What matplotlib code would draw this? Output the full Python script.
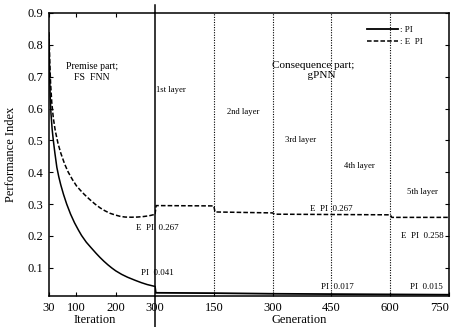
import matplotlib.pyplot as plt

plt.rcParams['font.family'] = ['Liberation Serif', 'DejaVu Serif']

# premise part (FS FNN), x = iteration
iter_pi = [30, 31, 32, 33, 35, 38, 41, 45, 50, 55, 60, 67, 75, 85, 95, 105, 113, 125, 137, 150,
           160, 170, 180, 190, 200, 215, 230, 250, 265, 280, 300]
pi_iter = [0.83, 0.75, 0.69, 0.64, 0.585, 0.535, 0.50, 0.46, 0.415, 0.385, 0.36, 0.33, 0.30, 0.268,
           0.241, 0.218, 0.201, 0.18, 0.163, 0.145, 0.132, 0.12, 0.109, 0.099, 0.090, 0.079, 0.070,
           0.060, 0.053, 0.047, 0.041]
iter_epi = [30, 31, 32, 34, 37, 41, 46, 53, 60, 70, 79, 90, 100, 110, 120, 133, 147, 160, 172, 185,
            200, 212, 224, 240, 255, 270, 285, 295, 300]
epi_iter = [0.84, 0.79, 0.745, 0.68, 0.62, 0.57, 0.53, 0.49, 0.46, 0.425, 0.40, 0.376, 0.357, 0.343,
            0.33, 0.315, 0.30, 0.288, 0.279, 0.271, 0.265, 0.261, 0.259, 0.2585, 0.259, 0.2605,
            0.263, 0.266, 0.268]

# consequence part (gPNN), x = generation
gen_pi = [0, 2, 150, 300, 450, 600, 750]
pi_gen = [0.040, 0.021, 0.020, 0.018, 0.017, 0.016, 0.015]
gen_epi = [0, 3, 150, 153, 300, 305, 450, 600, 604, 750]
epi_gen = [0.268, 0.295, 0.294, 0.275, 0.272, 0.268, 0.267, 0.266, 0.258, 0.258]

layer_bounds = [150, 300, 450, 600]
layer_names = ['1st layer', '2nd layer', '3rd layer', '4th layer', '5th layer']

fig = plt.figure(figsize=(4.51, 3.27), dpi=100)
W, H = 451, 327
x0, xm, x1 = 49, 155, 449
yb, yt = 296, 13
ax1 = fig.add_axes([x0 / W, 1 - yb / H, (xm - x0) / W, (yb - yt) / H])
ax2 = fig.add_axes([xm / W, 1 - yb / H, (x1 - xm) / W, (yb - yt) / H])

dash = (3, 1.4)
ax1.plot(iter_pi, pi_iter, color='black', lw=1.1)
ax1.plot(iter_epi, epi_iter, color='black', lw=1.1, dashes=dash)
l_pi, = ax2.plot(gen_pi, pi_gen, color='black', lw=1.3)
l_epi, = ax2.plot(gen_epi, epi_gen, color='black', lw=1.1, dashes=dash)

yt_vals = [0.1, 0.2, 0.3, 0.4, 0.5, 0.6, 0.7, 0.8, 0.9]
for ax in (ax1, ax2):
    ax.set_ylim(0.011, 0.9)
    ax.set_yticks(yt_vals)
    for s in ax.spines.values():
        s.set_linewidth(1.1)
    ax.tick_params(direction='in', length=3, width=0.8, labelsize=9, pad=4)

ax1.set_xlim(30, 300)
ax1.set_xticks([30, 100, 200, 300])
ax1.spines['right'].set_visible(False)
ax1.tick_params(top=True, right=False)

ax2.set_xlim(0, 750)
ax2.set_xticks([150, 300, 450, 600, 750])
ax2.spines['left'].set_visible(False)
ax2.tick_params(left=False, right=True, labelleft=False)
ax2.get_xticklabels()[-1].set_horizontalalignment('right')

# border between premise and consequence parts
ax2.axvline(0, ymin=-0.11, ymax=1.03, color='black', lw=1.1, clip_on=False)
for g in layer_bounds:
    ax2.axvline(g, color='black', lw=0.8, dashes=(1, 1.3))

ax1.set_ylabel('Performance Index', fontsize=9)
ax1.yaxis.set_label_coords(-0.30, 0.5)
ax1.set_xlabel('Iteration', fontsize=9)
ax1.xaxis.set_label_coords(0.434, -0.065)
ax2.set_xlabel('Generation', fontsize=9)
ax2.xaxis.set_label_coords(0.49, -0.065)

fs = 6.2
ax1.text(139, 0.715, 'Premise part;\nFS  FNN', ha='center', va='center', fontsize=7, linespacing=1.2)
ax2.text(403, 0.718, 'Consequence part;\n      gPNN', ha='center', va='center', fontsize=8,
         linespacing=1.15)
layer_pos = [(40, 0.659), (224, 0.589), (371, 0.501), (522, 0.420), (681, 0.338)]
for name, (gx, gy) in zip(layer_names, layer_pos):
    ax2.text(gx, gy, name, ha='center', va='center', fontsize=fs)

ax2.text(6, 0.225, 'E  PI  0.267', ha='center', va='center', fontsize=6.5, clip_on=False)
ax2.text(5, 0.084, 'PI  0.041', ha='center', va='center', fontsize=6.5, clip_on=False)
ax2.text(449, 0.285, 'E  PI  0.267', ha='center', va='center', fontsize=6.5)
ax2.text(681, 0.200, 'E  PI  0.258', ha='center', va='center', fontsize=6.5)
ax2.text(466, 0.040, 'PI  0.017', ha='center', va='center', fontsize=6.5)
ax2.text(693, 0.040, 'PI  0.015', ha='center', va='center', fontsize=6.5)

ax2.legend([l_pi, l_epi], [': PI', ': E  PI'], loc='upper left', bbox_to_anchor=(0.72, 0.955),
           frameon=False, fontsize=6.5, handlelength=3.5, handletextpad=0.2,
           labelspacing=0.45, borderpad=0, borderaxespad=0)

fig.savefig('out.png', dpi=100)
